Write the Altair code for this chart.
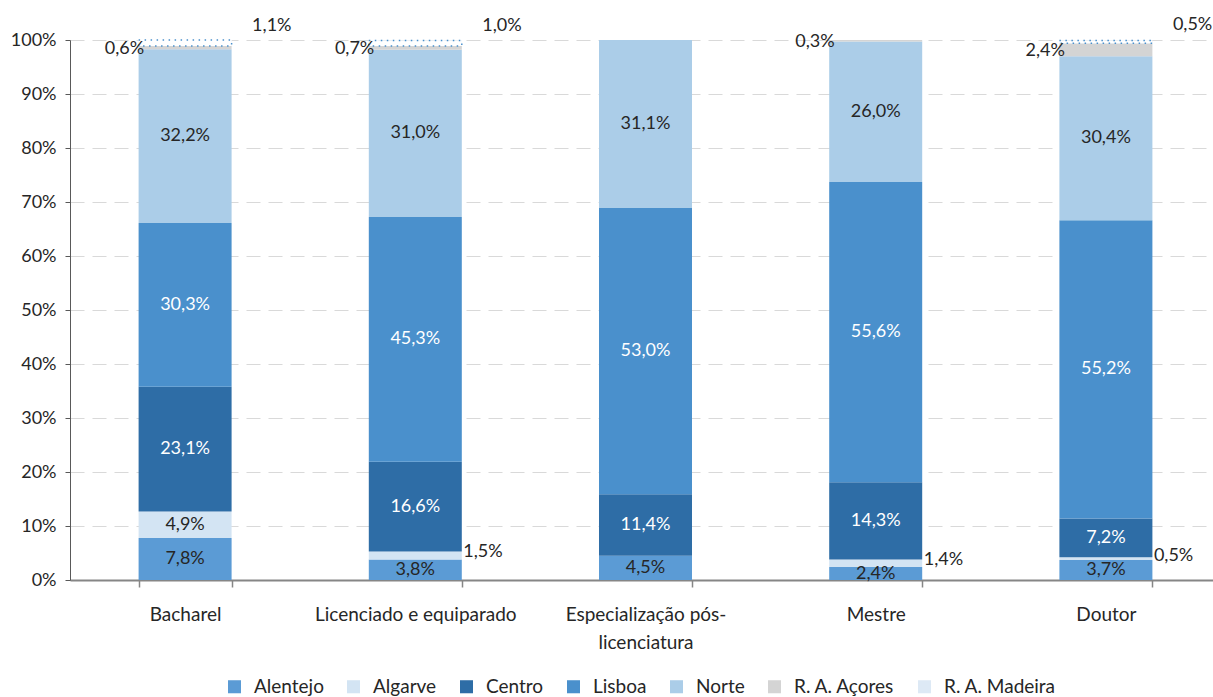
import altair as alt
import pandas as pd

# Distribution by region (%) for each academic degree
categories = [
    "Bacharel",
    "Licenciado e equiparado",
    "Especialização pós-licenciatura",
    "Mestre",
    "Doutor",
]
regions = ["Alentejo", "Algarve", "Centro", "Lisboa", "Norte", "R. A. Açores", "R. A. Madeira"]

alentejo = [7.8, 3.8, 4.5, 2.4, 3.7]
algarve = [4.9, 1.5, 0.0, 1.4, 0.5]
centro = [23.1, 16.6, 11.4, 14.3, 7.2]
lisboa = [30.3, 45.3, 53.0, 55.6, 55.2]
norte = [32.2, 31.0, 31.1, 26.0, 30.4]
acores = [0.6, 0.7, 0.0, 0.3, 2.4]
madeira = [1.1, 1.0, 0.0, 0.0, 0.5]

series = [alentejo, algarve, centro, lisboa, norte, acores, madeira]
colors = ["#5b9bd5", "#d3e4f3", "#2e6da6", "#4a90cc", "#abcde8", "#d4d4d4", "#dde9f5"]

rows = []
for r_idx, (region, vals) in enumerate(zip(regions, series)):
    for cat, v in zip(categories, vals):
        rows.append({"cat": cat, "region": region, "order": r_idx, "value": v})
df = pd.DataFrame(rows)

FONT = "Lato"
DARK = "#262626"

x_enc = alt.X(
    "cat:N",
    sort=categories,
    scale=alt.Scale(range=[0, 1151], paddingInner=0.596, paddingOuter=0.298),
    axis=alt.Axis(
        title=None,
        labelAngle=0,
        labelFont=FONT,
        labelFontSize=19,
        labelColor=DARK,
        labelLimit=400,
        labelPadding=18,
        labelLineHeight=28,
        labelExpr="datum.label == 'Especialização pós-licenciatura' ? ['Especialização pós-', 'licenciatura'] : datum.label",
        domainColor="#868686",
        domainWidth=2,
        tickColor="#868686",
        tickWidth=1.5,
        tickSize=7,
        tickBand="extent",
        grid=False,
    ),
)

base = (
    alt.Chart(df)
    .transform_stack(
        stack="value",
        as_=["y0", "y1"],
        groupby=["cat"],
        sort=[alt.SortField("order", order="ascending")],
    )
    .transform_calculate(
        mid="(datum.y0 + datum.y1) / 2",
        label="replace(format(datum.value, '.1f'), '.', ',') + '%'",
    )
)

y_scale = alt.Scale(domain=[0, 100], nice=False)

bars = base.mark_bar().encode(
    x=x_enc,
    y=alt.Y(
        "y0:Q",
        scale=y_scale,
        axis=alt.Axis(
            title=None,
            values=list(range(0, 101, 10)),
            labelExpr="datum.value + '%'",
            labelFont=FONT,
            labelFontSize=18,
            labelColor=DARK,
            labelPadding=9,
            tickSize=5,
            tickColor="#595959",
            domainColor="#595959",
            grid=True,
            gridColor="#d9d9d9",
            gridDash=[14, 8],
        ),
    ),
    y2="y1:Q",
    color=alt.Color(
        "region:N",
        sort=regions,
        scale=alt.Scale(domain=regions, range=colors),
        legend=alt.Legend(
            title=None,
            orient="none",
            direction="horizontal",
            legendX=155,
            legendY=637,
            symbolType="square",
            symbolSize=170,
            symbolStrokeWidth=0,
            labelFont=FONT,
            labelFontSize=19,
            labelColor=DARK,
            labelOffset=10,
            columnPadding=20,
            padding=0,
        ),
    ),
)

# R. A. Madeira drawn as a white segment with a dotted blue outline
madeira_overlay = (
    base.transform_filter("datum.region == 'R. A. Madeira' && datum.value > 0")
    .mark_bar(fill="white", stroke="#4a90cc", strokeWidth=1.5, strokeDash=[1.5, 4.5])
    .encode(x=alt.X("cat:N", sort=categories), y=alt.Y("y0:Q", scale=y_scale), y2="y1:Q")
)

text_common = dict(font=FONT, fontSize=18)

inside = (
    base.transform_filter(
        "datum.value > 0 && datum.region != 'R. A. Madeira' && datum.region != 'R. A. Açores'"
        " && !(datum.region == 'Algarve' && datum.value < 2)"
    )
    .mark_text(align="center", baseline="middle", **text_common)
    .encode(
        x=alt.X("cat:N", sort=categories),
        y=alt.Y("mid:Q", scale=y_scale),
        text="label:N",
        color=alt.condition(
            "datum.region == 'Centro' || datum.region == 'Lisboa'",
            alt.value("#ffffff"),
            alt.value(DARK),
        ),
    )
)

right = (
    base.transform_filter("datum.region == 'Algarve' && datum.value > 0 && datum.value < 2")
    .mark_text(align="left", baseline="middle", dx=48, dy=-3, color=DARK, **text_common)
    .encode(x=alt.X("cat:N", sort=categories), y=alt.Y("mid:Q", scale=y_scale), text="label:N")
)

left = (
    base.transform_filter("datum.region == 'R. A. Açores' && datum.value > 0")
    .mark_text(align="right", baseline="middle", dx=-41, dy=1, color=DARK, **text_common)
    .encode(x=alt.X("cat:N", sort=categories), y=alt.Y("mid:Q", scale=y_scale), text="label:N")
)

top_right = (
    base.transform_filter("datum.region == 'R. A. Madeira' && datum.value > 0")
    .mark_text(align="left", baseline="middle", dx=67, dy=-17, color=DARK, **text_common)
    .encode(x=alt.X("cat:N", sort=categories), y=alt.Y("mid:Q", scale=y_scale), text="label:N")
)

chart = (
    alt.layer(bars, madeira_overlay, inside, right, left, top_right)
    .properties(
        width=1143,
        height=540,
        autosize=alt.AutoSizeParams(type="none"),
        padding={"left": 70, "top": 40, "right": 0, "bottom": 117},
        background="white",
    )
    .configure_view(stroke=None)
)

chart.save("out.html", embed_options={"renderer": "svg", "actions": False})
